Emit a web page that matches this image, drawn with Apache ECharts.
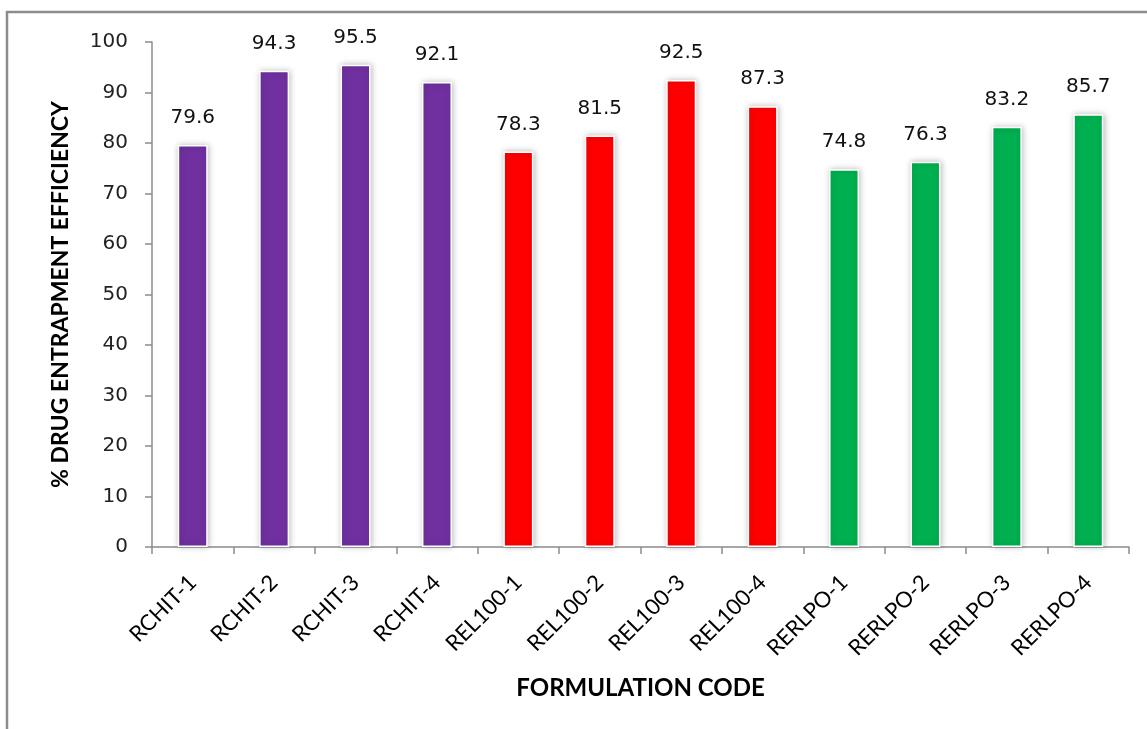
<!DOCTYPE html>
<html>
<head>
<meta charset="utf-8">
<script src="https://cdn.jsdelivr.net/npm/echarts@6/dist/echarts.min.js"></script>
<style>
  html, body { margin: 0; padding: 0; background: #fff; }
  #chart { width: 1147px; height: 729px; }
</style>
</head>
<body>
<div id="chart"></div>
<script>
// Formulation codes and their drug entrapment efficiency (%)
const categories = ['RCHIT-1', 'RCHIT-2', 'RCHIT-3', 'RCHIT-4',
                    'REL100-1', 'REL100-2', 'REL100-3', 'REL100-4',
                    'RERLPO-1', 'RERLPO-2', 'RERLPO-3', 'RERLPO-4'];
const efficiency = [79.6, 94.3, 95.5, 92.1, 78.3, 81.5, 92.5, 87.3, 74.8, 76.3, 83.2, 85.7];
// Polymer group each formulation belongs to (selects the bar colour)
const groups = ['RCHIT', 'RCHIT', 'RCHIT', 'RCHIT',
                'REL100', 'REL100', 'REL100', 'REL100',
                'RERLPO', 'RERLPO', 'RERLPO', 'RERLPO'];
const yTicks = [0, 10, 20, 30, 40, 50, 60, 70, 80, 90, 100];

const groupColors = { RCHIT: '#7030A0', REL100: '#FF0000', RERLPO: '#00B050' };

const chart = echarts.init(document.getElementById('chart'));

chart.setOption({
  animation: false,
  backgroundColor: '#ffffff',
  graphic: [{
    type: 'rect',
    shape: { x: 7, y: 12, width: 1300, height: 900 },
    style: { fill: 'none', stroke: '#8c8c8c', lineWidth: 2.5 },
    z: 0
  }],
  grid: { left: 152, right: 18, top: 42, bottom: 182 },
  xAxis: {
    type: 'category',
    data: categories,
    name: 'FORMULATION CODE',
    nameLocation: 'middle',
    nameGap: 129,
    nameTextStyle: { fontFamily: 'Lato', fontWeight: 'bold', fontSize: 24, color: '#000' },
    axisLine: { lineStyle: { color: '#8c8c8c', width: 1.5 } },
    axisTick: { show: true, length: 7, lineStyle: { color: '#8c8c8c', width: 1.5 } },
    axisLabel: {
      rotate: 45, margin: 32, interval: 0,
      fontFamily: 'Lato', fontSize: 22, color: '#000'
    }
  },
  yAxis: {
    type: 'value',
    min: yTicks[0],
    max: yTicks[yTicks.length - 1],
    interval: 10,
    name: '% DRUG ENTRAPMENT EFFICIENCY',
    nameLocation: 'middle',
    nameGap: 80,
    nameTextStyle: { fontFamily: 'Lato', fontWeight: 'bold', fontSize: 23, color: '#000' },
    splitLine: { show: false },
    axisLine: { show: true, lineStyle: { color: '#8c8c8c', width: 1.5 } },
    axisTick: { show: true, length: 7, lineStyle: { color: '#8c8c8c', width: 1.5 } },
    axisLabel: { margin: 24, fontFamily: 'DejaVu Sans', fontSize: 20, color: '#222' }
  },
  series: [{
    type: 'bar',
    barWidth: 30,
    data: efficiency.map((v, i) => ({
      value: v,
      itemStyle: { color: groupColors[groups[i]] }
    })),
    itemStyle: {
      borderColor: '#ffffff',
      borderWidth: 1.5,
      shadowBlur: 6,
      shadowColor: 'rgba(0,0,0,0.25)',
      shadowOffsetX: 1
    },
    label: {
      show: true,
      position: 'top',
      distance: 17,
      fontFamily: 'DejaVu Sans',
      fontSize: 20,
      color: '#111'
    }
  }]
});
</script>
</body>
</html>
